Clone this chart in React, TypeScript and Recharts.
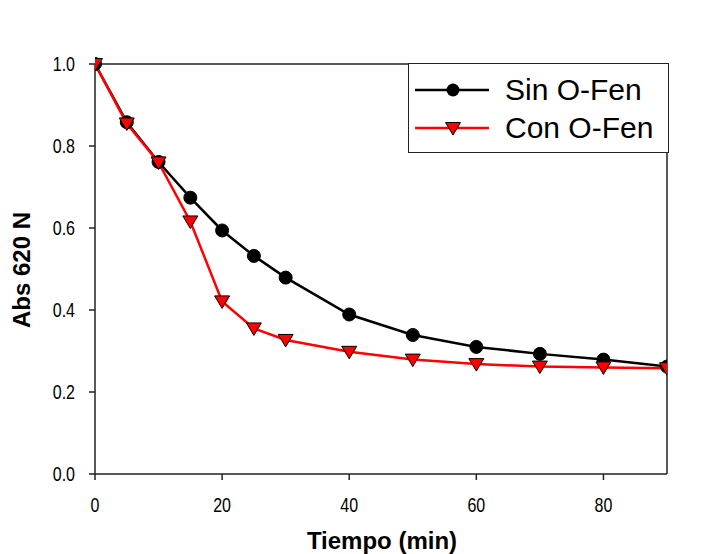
import React from "react";
import {
  LineChart,
  Line,
  XAxis,
  YAxis,
  ReferenceLine,
} from "recharts";

// Tiempo (min)
const tiempo = [0, 5, 10, 15, 20, 25, 30, 40, 50, 60, 70, 80, 90];
// Abs 620 N
const sinOFen = [1.0, 0.858, 0.761, 0.674, 0.594, 0.532, 0.479, 0.389, 0.339, 0.31, 0.293, 0.279, 0.262];
const conOFen = [1.0, 0.855, 0.76, 0.616, 0.421, 0.355, 0.327, 0.298, 0.279, 0.268, 0.262, 0.26, 0.258];

const xTicks = [0, 20, 40, 60, 80];
const yTicks = [0, 0.2, 0.4, 0.6, 0.8, 1.0];

const data = tiempo.map((t, i) => ({ t, sin: sinOFen[i], con: conOFen[i] }));

const AXIS = "#222";
const FONT = "'Liberation Sans', Arial, sans-serif";

const CircleDot = (props: any) => {
  const { cx, cy } = props;
  if (cx == null || cy == null) return null;
  return <circle cx={cx} cy={cy} r={6.5} fill="#000" stroke="#000" strokeWidth={1} />;
};

const TriangleDot = (props: any) => {
  const { cx, cy } = props;
  if (cx == null || cy == null) return null;
  return (
    <path
      d={`M${cx - 7.5},${cy - 5.5} L${cx + 7.5},${cy - 5.5} L${cx},${cy + 7} Z`}
      fill="#ff0000"
      stroke="#000"
      strokeWidth={1}
    />
  );
};

// narrow tick labels
const XTick = (props: any) => {
  const { x, y, payload } = props;
  return (
    <g transform={`translate(${x},${y + 30})`}>
      <text transform="scale(0.8,1)" textAnchor="middle" fontFamily={FONT} fontSize={20} fill="#000">
        {payload.value}
      </text>
    </g>
  );
};

const YTick = (props: any) => {
  const { x, y, payload } = props;
  return (
    <g transform={`translate(${x - 12},${y + 7})`}>
      <text transform="scale(0.8,1)" textAnchor="end" fontFamily={FONT} fontSize={20} fill="#000">
        {Number(payload.value).toFixed(1)}
      </text>
    </g>
  );
};

const series = [
  { name: "Sin O-Fen", color: "#000", tri: false },
  { name: "Con O-Fen", color: "#ff0000", tri: true },
];

const LegendBox = () => (
  <div
    style={{
      position: "absolute",
      left: 408,
      top: 63,
      width: 259,
      height: 88,
      border: "1px solid #222",
      background: "#fff",
      fontFamily: FONT,
      fontSize: 30,
      color: "#000",
    }}
  >
    {series.map((it, i) => (
      <div key={i} style={{ display: "flex", alignItems: "center", height: 38, marginTop: i === 0 ? 7 : 0 }}>
        <svg width={96} height={38} style={{ flexShrink: 0 }}>
          <line x1={6} x2={80} y1={19} y2={19} stroke={it.color} strokeWidth={2.5} />
          {it.tri ? (
            <path d="M36.5,13.5 L51.5,13.5 L44,26 Z" fill="#ff0000" stroke="#000" strokeWidth={1} />
          ) : (
            <circle cx={44} cy={19} r={6.5} fill="#000" />
          )}
        </svg>
        <span style={{ lineHeight: "38px" }}>{it.name}</span>
      </div>
    ))}
  </div>
);

export default function App() {
  return (
    <div style={{ position: "absolute", left: 0, top: 0, width: 708, height: 554, background: "#fff" }}>
      <LineChart
        width={708}
        height={554}
        data={data}
        margin={{ top: 64, right: 41, bottom: 30, left: 35 }}
      >
        <XAxis
          dataKey="t"
          type="number"
          domain={[0, 90]}
          ticks={xTicks}
          tick={<XTick />}
          tickSize={6}
          height={50}
          stroke={AXIS}
          strokeWidth={1.5}
          allowDataOverflow
        />
        <YAxis
          type="number"
          domain={[0, 1]}
          ticks={yTicks}
          tick={<YTick />}
          tickSize={6}
          width={60}
          stroke={AXIS}
          strokeWidth={1.5}
        />
        <ReferenceLine y={1} stroke={AXIS} strokeWidth={1.5} />
        <ReferenceLine x={90} stroke={AXIS} strokeWidth={1.5} />
        <Line
          dataKey="sin"
          name="Sin O-Fen"
          stroke="#000"
          strokeWidth={2.5}
          dot={<CircleDot />}
          activeDot={false}
          isAnimationActive={false}
        />
        <Line
          dataKey="con"
          name="Con O-Fen"
          stroke="#ff0000"
          strokeWidth={2.5}
          dot={<TriangleDot />}
          activeDot={false}
          isAnimationActive={false}
        />
        <text x={382} y={549} textAnchor="middle" fontFamily={FONT} fontWeight="bold" fontSize={24} fill="#000">
          Tiempo (min)
        </text>
        <text
          x={30}
          y={270}
          textAnchor="middle"
          transform="rotate(-90, 30, 270)"
          fontFamily={FONT}
          fontWeight="bold"
          fontSize={24}
          fill="#000"
        >
          Abs 620 N
        </text>
      </LineChart>
      <LegendBox />
    </div>
  );
}
